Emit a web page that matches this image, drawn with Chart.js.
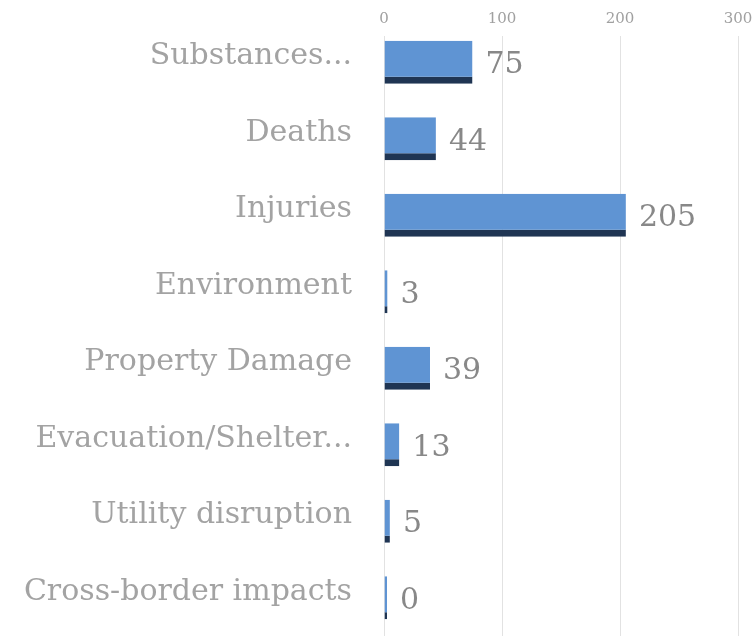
<!DOCTYPE html>
<html>
<head>
<meta charset="utf-8">
<script src="https://cdn.jsdelivr.net/npm/chart.js@4.4.1/dist/chart.umd.min.js"></script>
<style>
  html, body { margin: 0; padding: 0; background: #fff; }
  #wrap { width: 756px; height: 641px; }
</style>
</head>
<body>
<div id="wrap"><canvas id="chart" width="756" height="641"></canvas></div>
<script>
const categories = ['Substances...', 'Deaths', 'Injuries', 'Environment', 'Property Damage', 'Evacuation/Shelter...', 'Utility disruption', 'Cross-border impacts'];
const counts = [75, 44, 205, 3, 39, 13, 5, 0];
const xTicks = [0, 100, 200, 300];

const FONT = '"DejaVu Serif", "Liberation Serif", serif';

// gridlines start a little below the top tick labels
const gridGap = {
    id: 'gridGap',
    beforeDatasetsDraw(chart) {
        const { ctx, chartArea } = chart;
        ctx.save();
        ctx.fillStyle = '#ffffff';
        ctx.fillRect(chartArea.left - 2, chartArea.top - 1, chartArea.right - chartArea.left + 4, 13);
        ctx.restore();
    }
};

// value labels to the right of each bar
const valueLabels = {
    id: 'valueLabels',
    afterDatasetsDraw(chart) {
        const ctx = chart.ctx;
        const meta = chart.getDatasetMeta(0);
        ctx.save();
        ctx.font = '30px ' + FONT;
        ctx.fillStyle = '#888888';
        ctx.textAlign = 'left';
        ctx.textBaseline = 'middle';
        meta.data.forEach((bar, i) => {
            ctx.fillText(String(counts[i]), bar.x + 13, bar.y + 3);
        });
        ctx.restore();
    }
};

new Chart(document.getElementById('chart').getContext('2d'), {
    type: 'bar',
    data: {
        labels: categories,
        datasets: [{
            data: counts,
            backgroundColor: '#5f94d3',
            borderColor: '#1f3553',
            borderWidth: { top: 0, right: 0, bottom: 7, left: 0 },
            borderSkipped: false,
            categoryPercentage: 1,
            barPercentage: 0.56,
            minBarLength: 3
        }]
    },
    options: {
        indexAxis: 'y',
        responsive: false,
        animation: false,
        layout: { padding: { top: 2, right: 18, bottom: 5, left: 0 } },
        plugins: { legend: { display: false }, tooltip: { enabled: false } },
        scales: {
            x: {
                position: 'top',
                min: 0,
                max: 300,
                afterBuildTicks: (axis) => { axis.ticks = xTicks.map(v => ({ value: v })); },
                afterFit: (axis) => { axis.height = 22; },
                grid: { color: '#e2e2e2', lineWidth: 1, drawTicks: false },
                border: { display: false },
                ticks: { color: '#a0a0a0', font: { family: FONT, size: 15, lineHeight: 0.6 }, padding: 0, z: 1 }
            },
            y: {
                afterFit: (axis) => {
                    axis.width = 384;
                    axis.paddingTop = 0;
                    axis.paddingBottom = 0;
                },
                grid: { display: false },
                border: { display: false },
                ticks: { color: '#a3a3a3', font: { family: FONT, size: 30 }, padding: 24, labelOffset: -6 }
            }
        }
    },
    plugins: [gridGap, valueLabels]
});
</script>
</body>
</html>
